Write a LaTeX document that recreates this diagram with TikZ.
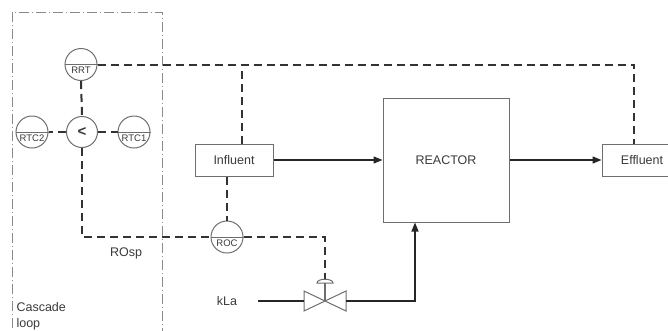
\documentclass[tikz,border=0pt]{standalone}
\usepackage{fontspec}
\setmainfont{Liberation Sans}
\usetikzlibrary{arrows.meta}
\definecolor{boxgray}{HTML}{6E6E6E}
\definecolor{sigc}{HTML}{333333}
\definecolor{txt}{HTML}{3A3A3A}
\definecolor{loopc}{HTML}{8A8A8A}
\begin{document}
\begin{tikzpicture}[x=1pt,y=-1pt,
  box/.style={draw=boxgray, line width=1pt, fill=white, font=\fontsize{12.5}{14}\selectfont, text=txt, inner sep=0pt},
  inst/.style={circle, draw=boxgray, line width=1pt, fill=white, minimum size=32pt, inner sep=0pt},
  sig/.style={draw=sigc, line width=2pt, dash pattern=on 8pt off 5pt},
  flow/.style={draw=black!85, line width=1.3pt, -{Triangle[length=9pt,width=7pt]}},
  plain/.style={draw=black!85, line width=1.3pt},
  lbl/.style={text=txt, font=\fontsize{12.5}{16}\selectfont},
  small/.style={text=txt, font=\fontsize{9.5}{10}\selectfont, inner sep=0pt},
  loopline/.style={draw=loopc, line width=0.9pt, dash pattern=on 10pt off 3pt on 1pt off 3pt}]
\useasboundingbox (0,0) rectangle (668,330);

% cascade loop boundary
\draw[loopline] (12,345) -- (12,12) -- (162,12) -- (162,345);

% boxes
\node[box, minimum width=78pt, minimum height=32pt] (inf) at (234,160) {Influent};
\node[box, minimum width=126pt, minimum height=124pt] (reactor) at (446,160) {REACTOR};
\node[box, minimum width=80pt, minimum height=32pt] (eff) at (642,160) {Effluent};

% instruments
\node[inst] (rrt) at (81,64.5) {};
\node[inst] (rtc2) at (32,132) {};
\node[inst] (rtc1) at (134,132) {};
\node[inst, minimum size=31pt, font=\fontsize{15}{15}\selectfont\bfseries, text=txt] (lt) at (82,132) {<};
\node[inst] (roc) at (227,237) {};

% signal lines
\draw[sig] (rrt.east) -| ([xshift=-8pt]eff.north);
\draw[sig] ([xshift=8pt]inf.north) -- ([xshift=8pt]inf.north |- rrt.east);
\draw[sig] (inf.south -| roc.north) -- (roc.north);
\draw[sig] (rrt.south) -- (lt.north);
\draw[sig] (lt.west) -- (rtc2.east);
\draw[sig] (lt.east) -- (rtc1.west);
\draw[sig] (lt.south) |- (roc.west);

% valve
\coordinate (v) at (325,301);
\coordinate (vl) at (304,301);
\coordinate (vr) at (346,301);
\coordinate (act) at (325,279);
\draw[sig] (roc.east) -| (act);
\draw[boxgray, line width=1pt, fill=white] (304,291) -- (304,311) -- (v) -- cycle;
\draw[boxgray, line width=1pt, fill=white] (346,291) -- (346,311) -- (v) -- cycle;
\draw[boxgray, line width=1.2pt] (v) -- (325,283);
\draw[boxgray, line width=1pt, fill=white] (317,283) .. controls (317,278) and (333,278) .. (333,283) -- cycle;

% instrument inner lines and labels
\foreach \n in {rrt,rtc2,rtc1,roc} {\draw[boxgray, line width=1pt] (\n.west) -- (\n.east);}
\node[small] (rrtl) at ([yshift=-6pt]rrt.center) {RRT};
\node[small] (rtc2l) at ([yshift=-6pt]rtc2.center) {RTC2};
\node[small] (rtc1l) at ([yshift=-6pt]rtc1.center) {RTC1};
\node[small] (rocl) at ([yshift=-6pt]roc.center) {ROC};

% flows
\node[lbl] (kla) at (227,301) {kLa};
\coordinate (kin) at (258,301);
\draw[plain] (kin) -- (vl);
\draw[flow] (vr) -| ([xshift=-31pt]reactor.south);
\draw[flow] (inf.east) -- (reactor.west);
\draw[flow] (reactor.east) -- (eff.west);

% texts
\node[lbl] (rosp) at (126,253) {ROsp};
\node[lbl, anchor=west, align=left] (casc) at (13,316) {Cascade\\loop};
\end{tikzpicture}
\end{document}
